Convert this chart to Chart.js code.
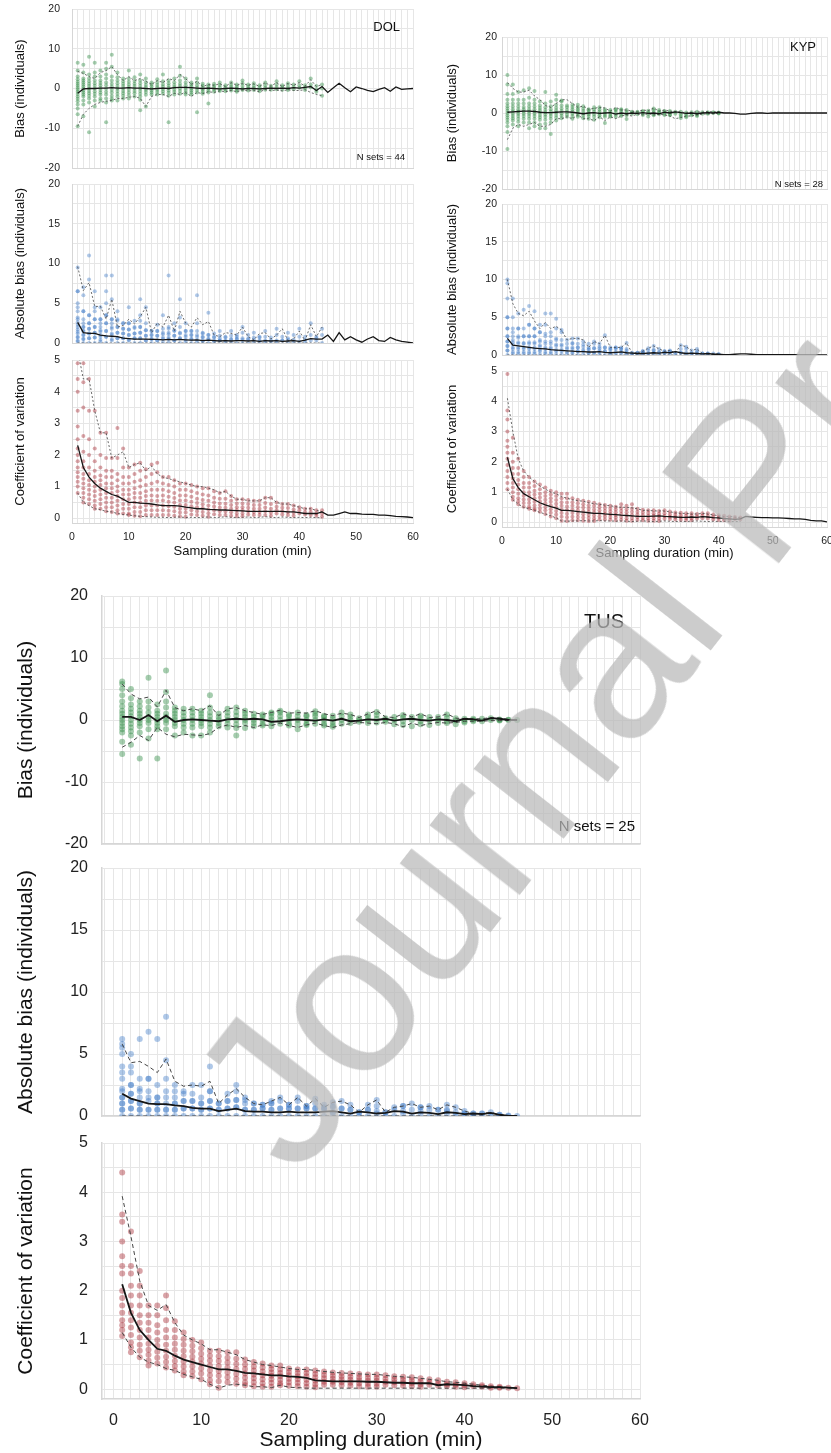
<!DOCTYPE html>
<html>
<head>
<meta charset="utf-8">
<script src="https://cdn.jsdelivr.net/npm/chart.js@4.4.1/dist/chart.umd.min.js"></script>
<style>
  body { margin: 0; background: #fff; width: 831px; height: 1453px; position: relative; overflow: hidden; }
  canvas { position: absolute; }
  #wm {
    position: absolute; left: 297px; top: 1180px;
    font: 215px/1 'Liberation Sans', Arial, sans-serif;
    color: rgba(185, 185, 185, 0.72);
    white-space: nowrap; transform-origin: 0 0;
    transform: rotate(-52deg) translateY(-182px);
    z-index: 5; pointer-events: none;
  }
</style>
</head>
<body>
<div id="wm">Journal Pre-proof</div>
<script>
// tick labels
const xTickLabels = [0, 10, 20, 30, 40, 50, 60];
const biasTicks = [-20, -10, 0, 10, 20];
const absTicks = [0, 5, 10, 15, 20];
const cvTicks = [0, 1, 2, 3, 4, 5];

// ---- DOL ----
const dolBiasMean = [-1.2,-0.1,0,0,0.1,0.1,0.2,0.1,0.1,0.2, 0.1,0.1,0,-0.1,0,0.1,0,0.2,0.3,0.3, 0.2,0.1,0,0.1,0,-0.1,0,0.1,0,-0.1, 0,0,-0.1,0,0.1,0,0.1,0,0.2,0.1, 0.3,0.5,-0.5,0.5,-1.0,0.2,1.3,0.2,-0.8,0.4, 0,-0.5,-0.8,-0.2,0.2,-0.7,0.4,-0.2,-0.1,0];
const dolBiasHi = [4.3,3.8,3.0,2.5,4.0,4.5,5.5,3.5,2.0,3.0, 2.0,2.5,1.8,1.0,2.0,1.5,2.5,2.0,3.5,2.5, 1.0,1.8,0.5,1.0,0.8,1.2,0.5,1.5,0.8,1.3, 0.8,1.2,0.5,1.5,0.6,1.5,0.5,1.3,0.8,1.5, 0.6,2.2,0.5,1.0];
const dolBiasLo = [-9.5,-6.5,-5,-4,-3.5,-3.2,-3,-2.5,-2.5,-2.2, -2,-2.5,-4.5,-2,-1.5,-1.5,-2,-1.2,-1.5,-1, -2,-1,-1.3,-0.8,-1,-0.6,-0.8,-0.5,-0.8,-0.4, -0.6,-0.5,-0.8,-0.3,-0.5,-0.4,-0.6,-0.3,-0.5,-0.5, -0.3,-1.0,-1.5,-1.8];
const dolBiasPts = [
  [6.5,4.5,3,2.3,1.7,1.2,0.7,0.2,-0.3,-0.8,-1.4,-2,-2.6,-3.2,-4,-5,-6.5,-9.5],
  [6,4,2.5,2,1.5,1,0.5,0,-0.5,-1,-1.5,-2,-3,-4,-7],
  [8,3.5,2.5,1.8,1.2,0.6,0,-0.6,-1.2,-1.8,-2.5,-3.5,-11],
  [6.5,4,3,2,1.3,0.7,0,-0.7,-1.3,-2,-3,-4.5],
  [4.5,3,2,1.4,0.8,0.2,-0.4,-1,-1.6,-2.5,-3],
  [6.5,5,3.5,2.5,1.5,0.8,0,-0.8,-1.5,-2.5,-3.5,-8.5],
  [8.5,5.5,3,2,1.2,0.5,-0.3,-1,-1.8,-2.5,-3],
  [4,2.8,2,1.3,0.6,0,-0.6,-1.3,-2,-3],
  [2.5,1.8,1.2,0.6,0,-0.6,-1.2,-1.8,-2.5],
  [4.5,2.5,1.7,1,0.4,-0.3,-1,-1.7,-2.5],
  [2.8,1.9,1.2,0.6,0,-0.6,-1.2,-2],
  [3.5,2,1.3,0.6,0,-0.6,-1.3,-2,-2.8,-5.5],
  [2.5,1.6,0.9,0.3,-0.3,-0.9,-1.6,-4.5],
  [1.5,1,0.5,0,-0.5,-1,-1.5],
  [2.3,1.5,0.9,0.3,-0.3,-0.9,-1.5],
  [3.5,1.8,1.1,0.5,-0.1,-0.7,-1.3],
  [2,1.3,0.7,0.1,-0.5,-1.1,-1.8,-8.5],
  [2.5,1.6,0.9,0.3,-0.3,-0.9,-1.5],
  [5.5,3.2,2,1.2,0.6,0,-0.6,-1.3],
  [2.5,1.5,0.8,0.2,-0.4,-1,-1.5],
  [1.5,1,0.5,0,-0.5,-1,-1.5],
  [2.5,1.5,0.8,0.2,-0.4,-1,-6],
  [1.2,0.7,0.2,-0.3,-0.8,-1.3],
  [1,0.5,0,-0.5,-1,-3.8],
  [1.2,0.7,0.2,-0.3,-0.8],
  [1.5,0.9,0.3,-0.3,-0.6],
  [0.8,0.3,-0.2,-0.7],
  [1.5,0.9,0.4,-0.1,-0.5],
  [1,0.5,0,-0.5,-0.8],
  [2,1.3,0.6,0,-0.4],
  [1,0.5,0,-0.5],
  [1.3,0.7,0.1,-0.4],
  [0.8,0.3,-0.2,-0.7],
  [1.5,0.8,0.2,-0.3],
  [0.7,0.2,-0.3],
  [1.8,1,0.3,-0.2],
  [0.8,0.3,-0.3],
  [1.3,0.6,0,-0.4],
  [1,0.4,-0.2],
  [1.8,0.8,0.2],
  [0.8,0.2,-0.4],
  [2.5,1,0.3],
  [0.6,-0.3,-0.8],
  [1,0,-1.8]
];
const dolAbsMean = [2.6,1.3,1.2,1.2,1.0,0.9,0.85,0.8,0.6,0.55, 0.5,0.5,0.5,0.45,0.45,0.4,0.45,0.4,0.45,0.4, 0.35,0.4,0.3,0.35,0.3,0.25,0.3,0.25,0.3,0.3, 0.25,0.3,0.2,0.3,0.25,0.3,0.2,0.25,0.3,0.2, 0.35,0.55,0.5,0.5,1.0,0.2,1.3,0.4,0.8,0.4, 0.1,0.5,0.8,0.3,0.2,0.7,0.4,0.2,0.1,0];
const dolAbsHi = [9.6,6.6,7.6,4.6,4.6,3.0,5.5,2.0,2.2,3.0, 2.4,3.3,4.5,1.3,2.5,2.0,3.5,1.5,4.0,2.5, 2.0,3.2,2.3,2.7,1.0,0.8,1.3,1.2,1.0,2.0, 0.8,0.4,1.2,1.3,0.5,1.0,1.8,0.3,0.5,1.5, 0.3,2.3,0.8,2.0];
const dolAbsLo = [0,0,0,0,0,0,0,0,0,0, 0,0,0,0,0,0,0,0,0,0, 0,0,0,0,0,0,0,0,0,0, 0,0,0,0,0,0,0,0,0,0, 0,0,0,0];
const dolCvMean = [2.3,1.6,1.3,1.1,0.95,0.85,0.75,0.7,0.6,0.5, 0.5,0.48,0.47,0.45,0.42,0.4,0.4,0.4,0.38,0.35, 0.33,0.3,0.3,0.28,0.27,0.26,0.26,0.25,0.24,0.23, 0.22,0.22,0.22,0.22,0.22,0.22,0.22,0.2,0.2,0.18, 0.15,0.15,0.15,0.2,0.1,0.1,0.15,0.2,0.15,0.15, 0.13,0.12,0.12,0.1,0.1,0.08,0.06,0.05,0.04,0.02];
const dolCvHi = [5.3,4.4,4.4,3.4,2.7,2.7,1.9,2.0,2.1,1.6, 1.7,1.75,1.5,1.65,1.4,1.3,1.25,1.2,1.15,1.1, 1.05,1.0,1.0,0.95,0.9,0.8,0.85,0.7,0.6,0.6, 0.55,0.55,0.55,0.65,0.65,0.5,0.45,0.45,0.4,0.35, 0.3,0.3,0.25,0.2];
const dolCvLo = [0.8,0.5,0.4,0.3,0.27,0.22,0.2,0.15,0.12,0.1, 0.08,0.06,0.05,0.04,0.03,0.03,0.02,0.03,0.04,0.02, 0.03,0.02,0.03,0.04,0.02,0.03,0.05,0.03,0.02,0.03, 0.04,0.02,0.03,0.05,0.03,0.02,0.04,0.03,0.02,0.03, 0.02,0.03,0.02,0.02];
const dolCvPts = [
  [4.9,4.4,4.0,3.4,2.9,2.5,2.2,2.0,1.8,1.6,1.45,1.3,1.15,1.0,0.8],
  [4.9,4.3,3.5,2.6,2.1,1.8,1.6,1.4,1.25,1.1,0.95,0.8,0.65,0.5],
  [4.4,3.4,2.5,2.0,1.6,1.4,1.2,1.05,0.9,0.75,0.6,0.45],
  [3.4,2.2,1.8,1.5,1.3,1.15,1.0,0.85,0.7,0.55,0.4,0.3],
  [2.7,2.0,1.6,1.35,1.2,1.05,0.9,0.75,0.6,0.45,0.3],
  [2.7,1.9,1.5,1.3,1.1,0.95,0.8,0.65,0.5,0.35,0.22],
  [1.9,1.5,1.3,1.1,0.95,0.8,0.65,0.5,0.35,0.2],
  [2.85,1.9,1.4,1.2,1.0,0.85,0.7,0.55,0.4,0.25,0.15],
  [2.2,1.6,1.3,1.1,0.9,0.75,0.6,0.45,0.3,0.15],
  [1.6,1.3,1.1,0.9,0.75,0.6,0.45,0.3,0.15,0.1],
  [1.7,1.4,1.15,0.95,0.8,0.65,0.5,0.35,0.2,0.08],
  [1.75,1.5,1.2,1.0,0.8,0.65,0.5,0.35,0.2,0.06],
  [1.55,1.3,1.05,0.85,0.7,0.55,0.4,0.25,0.1],
  [1.7,1.4,1.1,0.9,0.72,0.56,0.4,0.25,0.1],
  [1.75,1.45,1.15,0.9,0.7,0.55,0.4,0.25,0.1],
  [1.3,1.1,0.9,0.72,0.56,0.4,0.25,0.1],
  [1.3,1.05,0.85,0.68,0.52,0.38,0.24,0.1],
  [1.2,1.0,0.8,0.64,0.5,0.36,0.22,0.08],
  [1.1,0.9,0.72,0.56,0.42,0.3,0.18,0.06],
  [1.1,0.9,0.72,0.56,0.42,0.3,0.18,0.05],
  [1.05,0.85,0.68,0.52,0.38,0.25,0.12],
  [1.0,0.8,0.62,0.48,0.35,0.22,0.1],
  [0.95,0.75,0.58,0.44,0.32,0.2,0.08],
  [0.95,0.72,0.55,0.4,0.28,0.16,0.05],
  [0.85,0.65,0.5,0.37,0.25,0.13],
  [0.8,0.62,0.47,0.34,0.22,0.1],
  [0.85,0.62,0.46,0.33,0.21,0.1],
  [0.7,0.55,0.42,0.3,0.19,0.08],
  [0.6,0.47,0.35,0.25,0.15,0.06],
  [0.6,0.47,0.35,0.25,0.15,0.06],
  [0.58,0.45,0.33,0.22,0.12],
  [0.55,0.42,0.3,0.2,0.1],
  [0.55,0.42,0.3,0.2,0.1],
  [0.65,0.48,0.34,0.22,0.1],
  [0.65,0.45,0.3,0.18,0.08],
  [0.5,0.36,0.25,0.15],
  [0.45,0.33,0.22,0.12],
  [0.45,0.32,0.2,0.1],
  [0.4,0.28,0.18,0.08],
  [0.35,0.25,0.15],
  [0.3,0.2,0.12],
  [0.3,0.2,0.1],
  [0.25,0.15,0.08],
  [0.25,0.15,0.05]
];

// ---- KYP ----
const kypBiasMean = [0.2,0.3,0.4,0.5,0.5,0.4,0.2,0.1,0.1,0.2, 0.3,0.3,0.2,0,-0.2,0,0.1,-0.1,0,0.1, -0.3,0,-0.2,0,-0.1,0.1,-0.1,0,-0.2,0.2, 0,0.3,0.1,-0.1,0,-0.2,0,0.1,0,0.2, 0,0,-0.1,-0.3,-0.3,-0.1,0,0,-0.1,0, 0,0,0,0,0,0,0,0,0,0];
const kypBiasHi = [8,6.5,5.5,5.5,6,4.5,3.5,2,1.5,2.5, 3.5,3.5,2.5,1.5,1.8,1,1.2,1.5,1.3,0.5, 1.5,0.8,0.8,0.5,0.3,0.8,0.6,1.3,0.5,0.8, 0.5,0.3,0.3,0,0.2,0.3,0.2,0.4,0.3,0.3];
const kypBiasLo = [-7,-4,-3,-3.5,-3,-2.5,-3.5,-3.5,-3,-1.5, -1.5,-1,-1.5,-0.5,-1.5,-1.5,-2,-1,-2,-1, -1.5,-0.8,-0.5,-0.8,-0.3,-0.5,-0.2,-0.5,-0.3,-0.5, -0.8,-1.5,-1.2,-0.8,-0.8,-0.5,-0.3,-0.2,-0.2,-0.1];
const kypBiasPts = [
  [10,7.5,5,3.5,2.5,1.8,1.2,0.6,0,-0.6,-1.2,-1.8,-2.5,-3.5,-5,-9.5],
  [7.5,5,3.5,2.5,1.7,1,0.4,-0.2,-0.8,-1.4,-2,-3],
  [5.5,3.5,2.5,1.7,1,0.4,-0.2,-0.8,-1.5,-2.3,-3.5],
  [6,3.5,2.5,1.6,1,0.4,-0.2,-0.8,-1.5,-2.5],
  [6.5,4,2.5,1.7,1,0.4,-0.2,-0.8,-1.5,-2.5,-4],
  [5.8,3.5,2.5,1.7,1,0.4,-0.2,-0.8,-1.5,-2.5,-3.5],
  [3,2,1.3,0.7,0.1,-0.5,-1.1,-1.8,-3,-4],
  [5.5,2.5,1.5,0.8,0.2,-0.4,-1,-1.8,-2.8,-4],
  [3,1.8,1,0.4,-0.2,-0.8,-1.5,-2.5,-5.5],
  [4.8,3.5,2.2,1.4,0.7,0.1,-0.5,-1.2,-2],
  [3.3,3,2,1.2,0.5,-0.1,-0.7,-1.4],
  [2,1.5,0.8,0.2,-0.4,-1],
  [2.2,1.6,1,0.4,-0.2,-0.8,-1.5],
  [2.2,1.5,1,0.5,0,-0.5,-1],
  [1.8,1.1,0.5,-0.1,-0.7,-1.4],
  [1,0.7,0.2,-0.3,-0.8,-1.5],
  [1.5,0.9,0.3,-0.3,-0.9,-1.8],
  [1.5,0.9,0.4,-0.1,-0.6,-1.1],
  [1,0.5,0,-0.5,-1,-2.6],
  [0.8,0.3,-0.2,-0.7,-1],
  [1,0.8,0.2,-0.4,-1],
  [1,0.8,0.2,-0.4,-0.8],
  [0.8,0.3,-0.2,-0.6,-1.6],
  [0.3,0.1,-0.2],
  [0.3,0.1,-0.3],
  [0.5,0.3,-0.2,-0.5],
  [0.6,0.2,-0.2,-0.9],
  [1.2,0.7,0.2,-0.3,-0.6],
  [0.8,0.4,0,-0.3],
  [0.5,0.3,-0.2,-0.5],
  [0.5,0.1,-0.4,-0.6],
  [0.3,-0.2],
  [0.3,-0.3,-0.8,-1.3],
  [0.1,-0.3,-0.8,-1.1],
  [0.2,-0.2,-0.6],
  [0.3,-0.1,-0.5,-0.8],
  [0.2,-0.2],
  [0.2,0,-0.2],
  [0.2,0],
  [0.1,0,-0.1]
];
const kypAbsMean = [2.2,1.3,1.2,1.1,1.0,0.9,0.85,0.8,0.7,0.65, 0.6,0.55,0.5,0.45,0.45,0.4,0.4,0.45,0.35,0.3, 0.35,0.4,0.3,0.25,0.2,0.2,0.25,0.3,0.25,0.35, 0.3,0.45,0.3,0.2,0.25,0.2,0.15,0.2,0.1,0.1, 0.05,0.05,0.1,0.15,0.15,0.1,0.05,0.04,0.04,0.03, 0.03,0.03,0.03,0.03,0.02,0.02,0.02,0.02,0.02,0.02];
const kypAbsHi = [10,6.8,5.5,5.2,5.8,4.5,3.5,4.3,3.5,3.8, 3.3,2.0,2.2,2.2,2.0,1.0,1.8,1.5,2.6,1.0, 1.0,1.0,1.6,0.3,0.3,0.5,0.9,1.2,0.8,0.5, 0.6,0.3,1.3,1.1,0.6,0.8,0.2,0.2,0.2,0.1];
const kypAbsLo = [0,0,0,0,0,0,0,0,0,0, 0,0,0,0,0,0,0,0,0,0, 0,0,0,0,0,0,0,0,0,0, 0,0,0,0,0,0,0,0,0,0];
const kypCvMean = [2.15,1.45,1.15,0.95,0.85,0.75,0.65,0.58,0.52,0.47, 0.4,0.4,0.38,0.36,0.34,0.32,0.3,0.3,0.28,0.27, 0.26,0.24,0.23,0.22,0.2,0.2,0.2,0.21,0.22,0.2, 0.19,0.18,0.17,0.17,0.18,0.17,0.19,0.18,0.16,0.15, 0.13,0.12,0.1,0.12,0.2,0.18,0.17,0.16,0.16,0.15, 0.15,0.14,0.13,0.12,0.12,0.1,0.07,0.05,0.05,0.02];
const kypCvHi = [4.1,3.0,2.1,1.7,1.5,1.35,1.2,1.1,1.0,0.95, 0.85,0.8,0.75,0.72,0.7,0.65,0.62,0.6,0.57,0.55, 0.52,0.5,0.5,0.48,0.45,0.4,0.4,0.38,0.38,0.38, 0.35,0.32,0.3,0.3,0.28,0.28,0.3,0.28,0.25,0.22, 0.2,0.2,0.18,0.15];
const kypCvLo = [1.1,0.75,0.6,0.5,0.45,0.4,0.33,0.28,0.22,0.15, 0.05,0.04,0.05,0.05,0.06,0.05,0.05,0.06,0.05,0.05, 0.04,0.05,0.04,0.03,0.04,0.05,0.04,0.03,0.04,0.05, 0.04,0.03,0.04,0.03,0.04,0.05,0.04,0.03,0.04,0.03, 0.04,0.03,0.03,0.03];
const kypCvPts = [
  [4.9,3.7,3.4,3.0,2.7,2.5,2.3,2.1,1.9,1.7,1.5,1.3,1.1],
  [2.8,2.3,2.0,1.8,1.6,1.45,1.3,1.15,1.0,0.85,0.75],
  [2.1,1.8,1.6,1.4,1.25,1.1,0.95,0.8,0.7,0.6],
  [1.7,1.5,1.3,1.15,1.0,0.88,0.76,0.64,0.52],
  [1.5,1.3,1.15,1.0,0.88,0.76,0.64,0.52,0.45],
  [1.35,1.2,1.05,0.92,0.8,0.68,0.56,0.45,0.4],
  [1.25,1.1,0.95,0.82,0.7,0.58,0.46,0.35],
  [1.15,1.0,0.87,0.75,0.63,0.51,0.4,0.28],
  [1.05,0.92,0.8,0.68,0.56,0.44,0.32,0.2],
  [1.0,0.87,0.74,0.62,0.5,0.38,0.26,0.14],
  [0.95,0.8,0.67,0.55,0.43,0.31,0.19,0.06],
  [0.95,0.8,0.66,0.53,0.41,0.29,0.17,0.05],
  [0.8,0.67,0.55,0.43,0.31,0.19,0.07],
  [0.75,0.63,0.51,0.4,0.29,0.18,0.07],
  [0.72,0.6,0.49,0.38,0.27,0.16,0.06],
  [0.68,0.56,0.45,0.35,0.25,0.15,0.05],
  [0.65,0.54,0.43,0.33,0.23,0.13,0.05],
  [0.6,0.5,0.4,0.3,0.2,0.1],
  [0.58,0.48,0.38,0.29,0.2,0.1],
  [0.55,0.45,0.36,0.27,0.18,0.09],
  [0.52,0.43,0.34,0.25,0.16,0.07],
  [0.6,0.48,0.38,0.28,0.18,0.08],
  [0.55,0.44,0.34,0.24,0.14,0.06],
  [0.6,0.46,0.35,0.25,0.15,0.06],
  [0.45,0.35,0.26,0.17,0.08],
  [0.42,0.33,0.24,0.15,0.07],
  [0.4,0.31,0.22,0.14,0.06],
  [0.4,0.3,0.22,0.14,0.06],
  [0.38,0.29,0.21,0.13,0.05],
  [0.4,0.3,0.21,0.12],
  [0.36,0.27,0.19,0.11],
  [0.33,0.25,0.17,0.1],
  [0.32,0.24,0.16,0.08],
  [0.3,0.22,0.15,0.08],
  [0.3,0.22,0.14,0.07],
  [0.28,0.2,0.13],
  [0.3,0.22,0.14],
  [0.3,0.21,0.13],
  [0.26,0.18,0.1],
  [0.24,0.16,0.08],
  [0.22,0.14,0.07],
  [0.2,0.13,0.06],
  [0.18,0.11],
  [0.16,0.1]
];

// ---- TUS ----
const tusBiasMean = [0.5,0.5,0,0.8,-0.2,0.7,-0.3,0,0.1,0, -0.1,-0.2,0.1,0.2,0.1,0.2,0.1,-0.3,-0.2,0, 0.1,0,-0.1,0.1,-0.1,0.2,-0.2,-0.1,0.1,0, 0.2,-0.1,0.1,0.2,0,-0.1,0.1,0,-0.2,0.2, 0.1,-0.1,0.3,0.2,0,0];
const tusBiasHi = [5.8,4.2,3.4,3.7,2.1,4.8,2.0,1.5,1.8,1.5, 2.3,0.7,1.8,2.0,1.5,1.2,0.9,1.2,1.6,1.1, 1.2,1.1,1.5,1.0,0.7,1.1,0.9,0.4,1.0,1.5, 0.5,0.4,1.0,0.5,1.0,0.4,0.5,1.0,0.3,0.2, 0.2,0.2,0.4,0.3,0.1,0];
const tusBiasLo = [-4.4,-3.6,-2.5,-3.3,-1.2,-2.3,-2.7,-2.3,-2.4,-2.5, -2.2,-1.2,-0.8,-1.2,-0.9,-1.2,-0.8,-0.9,-0.5,-0.9, -1.2,-0.8,-0.5,-0.9,-1.2,-0.8,-0.6,-0.4,-0.5,-0.6, -0.4,-0.6,-1.1,-0.5,-0.9,-0.6,-0.4,-0.5,-0.4,-0.2, -0.2,-0.2,-0.1,-0.1,-0.05,0];
const tusBiasPts = [
  [6.2,5.8,5,4,3,2.2,1.5,1,0.5,0,-0.5,-1,-1.5,-2,-3.5,-5.5],
  [5,3.5,2.5,1.8,1.2,0.6,0,-0.6,-1.2,-1.8,-2.5,-4],
  [3,2.2,1.5,1,0.5,0,-0.5,-1,-2,-6.2],
  [6.8,3,2,1.2,0.5,0,-0.5,-1.5,-3],
  [2.5,1.5,1,0.5,0,-0.5,-1,-1.5,-6.2],
  [8,4.5,3,2,1,0.5,0,-0.5,-1.5],
  [2,1.5,1,0.5,0,-0.5,-1,-2.5],
  [1.8,1.2,0.6,0,-0.6,-1.2,-2],
  [1.8,1.2,0.6,0,-0.6,-1.2,-2.5],
  [1.5,1,0.5,0,-0.5,-1,-2.5],
  [4,2,1.2,0.6,0,-0.6,-1.2,-2],
  [1,0.5,0,-0.5,-1],
  [1.8,1.2,0.6,0,-0.6,-1.2],
  [2,1.3,0.7,0,-0.7,-1.3,-2.5],
  [1.5,1,0.5,0,-0.5,-1.3],
  [1,0.5,0,-0.5,-1],
  [0.9,0.6,0,-0.6,-0.9],
  [1.2,1,0.5,0,-0.5,-1],
  [1.5,1.2,0.6,0,-0.6],
  [0.9,0.6,0,-0.6,-0.9],
  [1.2,0.6,0,-0.6,-1.5],
  [0.8,0.6,0,-0.6,-0.8],
  [1.4,1,0.6,0,-0.6],
  [0.7,0.5,0,-0.6,-0.9],
  [0.7,0.2,-0.3,-0.8,-1.1],
  [1.2,0.6,0,-0.6],
  [0.9,0.5,0,-0.5],
  [0.3,0,-0.3],
  [0.9,0.5,0,-0.5],
  [1.3,0.8,0.2,-0.4],
  [0.3,0,-0.3],
  [0.5,0,-0.7],
  [0.8,0.4,-0.2,-0.8],
  [0.5,0,-1.0],
  [0.7,0.4,-0.2,-0.7],
  [0.5,0,-0.8],
  [0.5,0,-0.5],
  [0.9,0.4,-0.2,-0.5],
  [0.3,-0.1,-0.7],
  [0.2,-0.2,-0.4],
  [0.2,0,-0.2],
  [0.2,-0.2],
  [0.3,0],
  [0.1,0,-0.1],
  [0.05,0],
  [0]
];
const tusAbsMean = [1.8,1.4,1.2,1.0,0.95,0.95,0.85,0.8,0.65,0.6, 0.6,0.4,0.5,0.6,0.4,0.35,0.35,0.3,0.3,0.35, 0.3,0.3,0.3,0.35,0.4,0.3,0.2,0.35,0.3,0.2, 0.25,0.4,0.35,0.2,0.3,0.25,0.15,0.3,0.25,0.15, 0.2,0.15,0.25,0.1,0,0];
const tusAbsHi = [5.8,4.3,4.4,4.0,3.5,4.6,2.8,2.4,2.5,2.4, 2.8,1.0,1.7,2.2,1.5,1.0,0.9,1.2,1.5,0.9, 1.5,0.8,1.4,0.7,1.1,1.2,0.9,0.3,0.9,1.3, 0.3,0.7,0.8,1.0,0.7,0.8,0.5,0.9,0.7,0.4, 0.2,0.2,0.3,0.1,0.05,0];
const tusAbsLo = [0,0,0,0,0,0,0,0,0,0, 0,0,0,0,0,0,0,0,0,0, 0,0,0,0,0,0,0,0,0,0, 0,0,0,0,0,0,0,0,0,0, 0,0,0,0,0,0];
const tusCvMean = [2.13,1.55,1.2,1.0,0.82,0.78,0.68,0.6,0.55,0.5, 0.45,0.4,0.4,0.37,0.33,0.32,0.3,0.28,0.28,0.26, 0.25,0.23,0.18,0.17,0.16,0.16,0.16,0.16,0.15,0.15, 0.14,0.13,0.13,0.12,0.12,0.12,0.08,0.1,0.09,0.08, 0.06,0.05,0.04,0.04,0.03,0.02];
const tusCvHi = [3.92,3.1,2.2,1.7,1.6,1.72,1.35,1.1,1.0,0.92, 0.8,0.8,0.75,0.7,0.6,0.55,0.5,0.48,0.45,0.42, 0.4,0.4,0.38,0.36,0.34,0.33,0.32,0.31,0.3,0.3, 0.28,0.26,0.25,0.24,0.22,0.2,0.18,0.15,0.14,0.12, 0.1,0.08,0.06,0.05,0.03,0.02];
const tusCvLo = [1.15,0.85,0.65,0.55,0.5,0.42,0.38,0.3,0.25,0.2, 0.1,0.02,0.08,0.1,0.08,0.05,0.05,0.03,0.08,0.04, 0.03,0.02,0.02,0.02,0.02,0.02,0.02,0.02,0.02,0.02, 0.02,0.02,0.02,0.02,0.02,0.02,0.02,0.02,0.02,0.02, 0.02,0.02,0.02,0.02,0.02,0.02];
const tusCvPts = [
  [4.4,3.55,3.4,3.0,2.7,2.5,2.35,2.0,1.85,1.7,1.55,1.4,1.3,1.2,1.08],
  [3.2,2.5,2.35,2.1,1.9,1.7,1.55,1.4,1.25,1.1,0.95,0.85,0.75],
  [2.4,2.1,1.9,1.7,1.5,1.35,1.2,1.05,0.9,0.78,0.65],
  [1.7,1.5,1.35,1.2,1.05,0.92,0.8,0.7,0.58,0.48],
  [1.7,1.5,1.3,1.15,1.0,0.88,0.76,0.64,0.52],
  [1.9,1.65,1.4,1.2,1.05,0.9,0.78,0.66,0.55,0.44],
  [1.38,1.2,1.05,0.92,0.8,0.68,0.57,0.47,0.38],
  [1.15,1.02,0.9,0.78,0.67,0.56,0.46,0.36,0.28],
  [1.0,0.88,0.77,0.66,0.56,0.46,0.36,0.26],
  [0.95,0.83,0.72,0.62,0.52,0.42,0.32,0.2],
  [0.78,0.68,0.58,0.48,0.38,0.28,0.18,0.1],
  [0.78,0.67,0.57,0.47,0.37,0.27,0.16,0.03],
  [0.75,0.64,0.54,0.44,0.34,0.24,0.14],
  [0.75,0.62,0.51,0.41,0.31,0.21,0.11],
  [0.6,0.5,0.41,0.32,0.23,0.14,0.08],
  [0.55,0.46,0.38,0.3,0.22,0.14,0.06],
  [0.52,0.44,0.36,0.28,0.2,0.12,0.05],
  [0.48,0.41,0.34,0.27,0.2,0.13,0.05],
  [0.48,0.4,0.33,0.26,0.19,0.12,0.08],
  [0.42,0.35,0.28,0.21,0.14,0.07],
  [0.4,0.33,0.26,0.2,0.13,0.06],
  [0.4,0.33,0.26,0.19,0.12,0.05],
  [0.38,0.31,0.24,0.17,0.1,0.04],
  [0.36,0.29,0.22,0.15,0.09],
  [0.34,0.27,0.21,0.15,0.09],
  [0.33,0.26,0.2,0.14,0.08],
  [0.32,0.25,0.19,0.13,0.07],
  [0.31,0.24,0.18,0.12,0.06],
  [0.3,0.23,0.17,0.11,0.05],
  [0.3,0.23,0.17,0.11,0.05],
  [0.28,0.21,0.15,0.09],
  [0.26,0.2,0.14,0.08],
  [0.25,0.19,0.13,0.07],
  [0.24,0.18,0.12,0.06],
  [0.22,0.16,0.1,0.05],
  [0.2,0.14,0.09],
  [0.18,0.12,0.07],
  [0.15,0.1,0.06],
  [0.14,0.09,0.05],
  [0.12,0.08,0.04],
  [0.1,0.06],
  [0.08,0.05],
  [0.06,0.03],
  [0.05,0.03],
  [0.03],
  [0.02]
];

const FONT = "'Liberation Sans', Arial, Helvetica, sans-serif";
const GREEN = 'rgba(55, 145, 75, 0.45)';
const BLUE = 'rgba(65, 125, 200, 0.42)';
const RED = 'rgba(165, 35, 45, 0.42)';

const small = { tick: 10.5, title: 13, r: 2, meanW: 1.3, dashW: 0.8, dash: [2, 2] };
const large = { tick: 16, title: 21, r: 3, meanW: 1.8, dashW: 1, dash: [4, 3] };

// minute index -> {x, y}
const toXY = arr => arr.map((v, i) => ({ x: i + 1, y: v }));
const colsToXY = cols => cols.flatMap((col, i) => col.map(v => ({ x: i + 1, y: v })));
const absCols = cols => cols.map(col => col.map(v => Math.abs(v)));

// one grid line per step, starting at the first whole step inside the axis
const stepTicks = step => s => {
  const out = [];
  for (let k = Math.ceil(s.min / step - 1e-9); k * step <= s.max + 1e-9; k++) {
    out.push({ value: Math.round(k * step * 1000) / 1000 });
  }
  s.ticks = out;
};
const labelIf = list => v => {
  const r = Math.round(v * 100) / 100;
  return list.includes(r) ? r : '';
};

function notesPlugin(items) {
  return {
    id: 'notes',
    afterDatasetsDraw(chart) {
      const { ctx, chartArea: a } = chart;
      items.forEach(it => {
        ctx.save();
        ctx.font = it.size + 'px ' + FONT;
        ctx.fillStyle = '#111';
        ctx.textAlign = 'right';
        ctx.textBaseline = 'middle';
        const y = it.top != null ? a.top + it.top : a.bottom - it.bottom;
        ctx.fillText(it.text, a.right - it.dx, y);
        ctx.restore();
      });
    }
  };
}

function panel(o) {
  const [l, t, r, b] = o.box;
  const sz = o.size;
  const c = document.createElement('canvas');
  c.width = r - l + o.yw + o.pr;
  c.height = b - t + o.pt + o.xh;
  c.style.left = (l - o.yw) + 'px';
  c.style.top = (t - o.pt) + 'px';
  document.body.appendChild(c);

  const [yMin, yMax, yStep] = o.y;
  new Chart(c, {
    type: 'scatter',
    data: {
      datasets: [
        { data: toXY(o.mean), showLine: true, borderColor: '#151515', borderWidth: sz.meanW, pointRadius: 0, order: 1 },
        { data: toXY(o.hi), showLine: true, borderColor: '#444', borderWidth: sz.dashW, borderDash: sz.dash, pointRadius: 0, order: 2 },
        { data: toXY(o.lo), showLine: true, borderColor: '#444', borderWidth: sz.dashW, borderDash: sz.dash, pointRadius: 0, order: 2 },
        { data: colsToXY(o.pts), backgroundColor: o.dot, borderWidth: 0, pointRadius: sz.r, order: 3 }
      ]
    },
    options: {
      responsive: false,
      animation: false,
      devicePixelRatio: 1,
      events: [],
      layout: { padding: { top: o.pt, right: o.pr, left: 0, bottom: 0 } },
      plugins: { legend: { display: false }, tooltip: { enabled: false } },
      scales: {
        x: {
          type: 'linear', min: o.xMin, max: 60,
          afterFit: s => { s.height = o.xh; },
          afterBuildTicks: stepTicks(1),
          ticks: {
            display: o.showX, stepSize: 1, maxTicksLimit: 100, autoSkip: false, maxRotation: 0,
            padding: o.xPad || 0, color: '#222', font: { size: sz.tick, family: FONT },
            callback: labelIf(xTickLabels)
          },
          grid: { color: '#e6e6e6', drawTicks: false },
          border: { display: true, color: '#d6d6d6', width: o.frame },
          title: { display: o.showX, text: 'Sampling duration (min)', color: '#111', font: { size: sz.title, family: FONT }, padding: 0 }
        },
        y: {
          min: yMin, max: yMax,
          afterFit: s => { s.width = o.yw; },
          afterBuildTicks: stepTicks(yStep),
          ticks: {
            stepSize: yStep, maxTicksLimit: 100, autoSkip: false,
            padding: o.yPad, color: '#222', font: { size: sz.tick, family: FONT },
            callback: labelIf(o.yLabels)
          },
          grid: { color: '#e6e6e6', drawTicks: false },
          border: { display: true, color: '#d6d6d6', width: o.frame },
          title: { display: true, text: o.yTitle, color: '#111', font: { size: sz.title, family: FONT }, padding: { top: o.titlePad, bottom: 0 } }
        }
      }
    },
    plugins: [notesPlugin(o.notes || [])]
  });
}

// left column: DOL
const dolCol = { yw: 72, pr: 25, pt: 19, size: small, titlePad: 12.2, yPad: 12, xMin: 0, frame: 1 };
panel({ ...dolCol, box: [72, 9, 413, 168], xh: 20, showX: false, y: [-20, 20, 5], yLabels: biasTicks,
  yTitle: 'Bias (individuals)', dot: GREEN, mean: dolBiasMean, hi: dolBiasHi, lo: dolBiasLo, pts: dolBiasPts,
  notes: [{ text: 'DOL', size: 13, dx: 13, top: 18 }, { text: 'N sets = 44', size: 9.5, dx: 8, bottom: 11 }] });
panel({ ...dolCol, box: [72, 184, 413, 343], xh: 20, showX: false, y: [0, 20, 2.5], yLabels: absTicks,
  yTitle: 'Absolute bias (individuals)', dot: BLUE, mean: dolAbsMean, hi: dolAbsHi, lo: dolAbsLo, pts: absCols(dolBiasPts) });
panel({ ...dolCol, box: [72, 360, 413, 523], xh: 36, xPad: 8, showX: true, y: [-0.15, 5, 0.5], yLabels: cvTicks,
  yTitle: 'Coefficient of variation', dot: RED, mean: dolCvMean, hi: dolCvHi, lo: dolCvLo, pts: dolCvPts });

// right column: KYP
const kypCol = { yw: 62, pr: 25, pt: 12, size: small, titlePad: 4.2, yPad: 5, xMin: 0, frame: 1 };
panel({ ...kypCol, box: [502, 37, 827, 189], xh: 12, showX: false, y: [-20, 20, 5], yLabels: biasTicks,
  yTitle: 'Bias (individuals)', dot: GREEN, mean: kypBiasMean, hi: kypBiasHi, lo: kypBiasLo, pts: kypBiasPts,
  notes: [{ text: 'KYP', size: 13, dx: 11, top: 10 }, { text: 'N sets = 28', size: 9.5, dx: 4, bottom: 5 }] });
panel({ ...kypCol, box: [502, 204, 827, 355], xh: 12, showX: false, y: [0, 20, 2.5], yLabels: absTicks,
  yTitle: 'Absolute bias (individuals)', dot: BLUE, mean: kypAbsMean, hi: kypAbsHi, lo: kypAbsLo, pts: absCols(kypBiasPts) });
panel({ ...kypCol, box: [502, 371, 827, 527], xh: 34, xPad: 8, showX: true, y: [-0.15, 5, 0.5], yLabels: cvTicks,
  yTitle: 'Coefficient of variation', dot: RED, mean: kypCvMean, hi: kypCvHi, lo: kypCvLo, pts: kypCvPts });

// bottom: TUS
const tusCol = { yw: 102, pr: 30, pt: 24, size: large, titlePad: 13.4, yPad: 14, xMin: -1.3, frame: 1.5 };
panel({ ...tusCol, box: [102, 596, 640, 844], xh: 24, showX: false, y: [-20, 20, 5], yLabels: biasTicks,
  yTitle: 'Bias (individuals)', dot: GREEN, mean: tusBiasMean, hi: tusBiasHi, lo: tusBiasLo, pts: tusBiasPts,
  notes: [{ text: 'TUS', size: 20, dx: 16, top: 26 }, { text: 'N sets = 25', size: 15, dx: 5, bottom: 17 }] });
panel({ ...tusCol, box: [102, 868, 640, 1116], xh: 24, showX: false, y: [0, 20, 2.5], yLabels: absTicks,
  yTitle: 'Absolute bias (individuals)', dot: BLUE, mean: tusAbsMean, hi: tusAbsHi, lo: tusAbsLo, pts: absCols(tusBiasPts) });
panel({ ...tusCol, box: [102, 1143, 640, 1399], xh: 54, xPad: 12, showX: true, y: [-0.2, 5, 0.5], yLabels: cvTicks,
  yTitle: 'Coefficient of variation', dot: RED, mean: tusCvMean, hi: tusCvHi, lo: tusCvLo, pts: tusCvPts });
</script>
</body>
</html>
